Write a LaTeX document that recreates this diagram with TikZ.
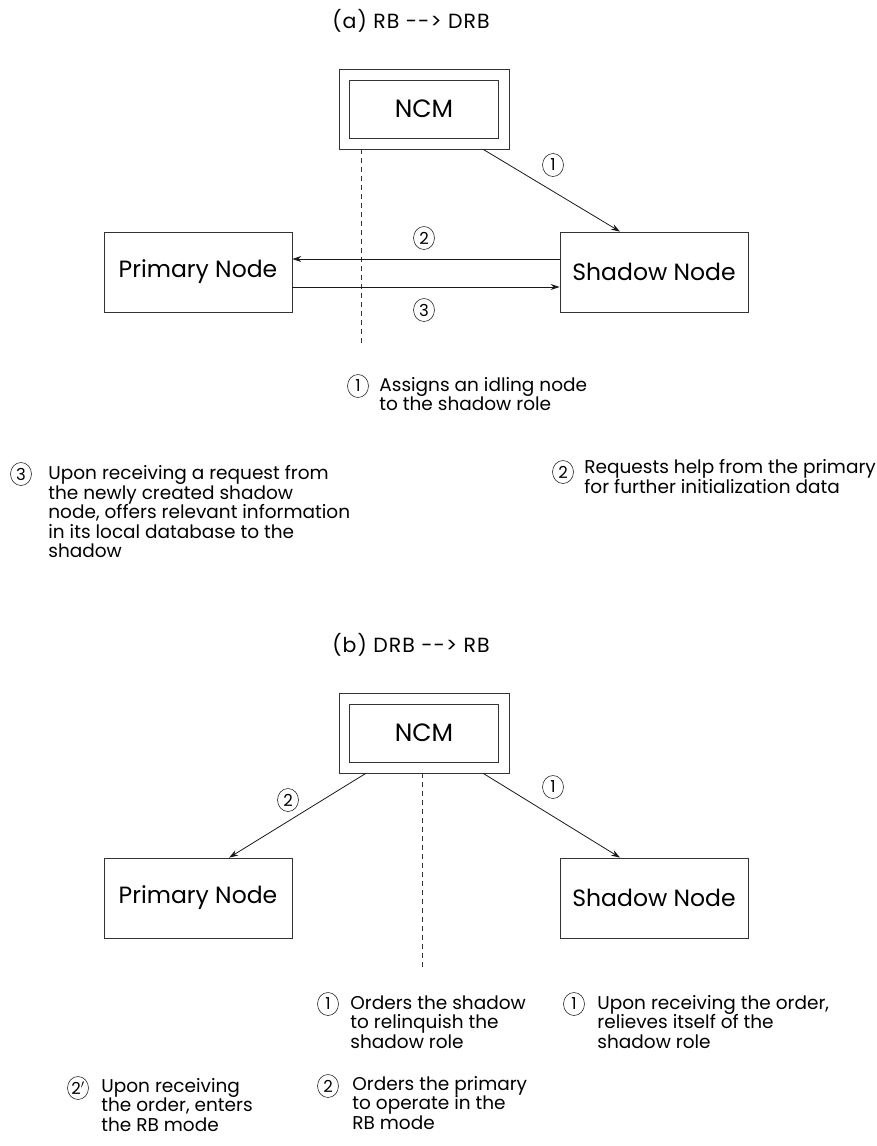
\documentclass[tikz,border=0pt]{standalone}
\usepackage{fontspec}
\setmainfont{Poppins}
\usetikzlibrary{arrows.meta,shapes.geometric,calc}
\begin{document}
\begin{tikzpicture}[x=1pt,y=-1pt,
  line width=0.8pt,
  box/.style={draw=black!80,minimum width=188pt,minimum height=80pt,inner sep=0pt,font=\fontsize{23.5}{26}\selectfont},
  ncmout/.style={draw=black!80,minimum width=170pt,minimum height=80pt,inner sep=0pt},
  ncmin/.style={draw=black!80,minimum width=149pt,minimum height=58pt,inner sep=0pt,font=\fontsize{25}{28}\selectfont},
  num/.style={ellipse,draw=black!85,line width=0.6pt,minimum width=21pt,minimum height=23pt,inner sep=0pt,font=\fontsize{16.5}{16.5}\selectfont},
  note/.style={anchor=north west,align=left,inner sep=0pt,font=\fontsize{18.5}{19.5}\selectfont},
  title/.style={font=\fontsize{20.5}{24}\selectfont\addfontfeature{LetterSpace=5}},
  arr/.style={-{Stealth[length=9pt,width=6pt]},black!90},
  guide/.style={dashed,dash pattern=on 5pt off 4pt,black!80}]
\useasboundingbox (0,0) rectangle (877,1146);

% ---------- (a) RB --> DRB ----------
\node[title] (tA) at (411,21) {(a) RB {-}{-}> DRB};
\node[ncmout] (ncmAo) at (424,109) {};
\node[ncmin] (ncmA) at (424,109) {NCM};
\node[box] (prA) at (198,272) {Primary Node};
\node[box] (shA) at (654,272) {Shadow Node};

\coordinate (dA) at (361,345);
\draw[guide] (ncmAo.south -| dA) -- (dA);

\draw[arr] ($(ncmAo.south west)!0.847!(ncmAo.south east)$) -- ($(shA.north west)!0.32!(shA.north east)$);
\draw[arr] ([yshift=13pt]shA.west) -- ([yshift=13pt]prA.east);
\draw[arr] ([yshift=-15pt]prA.east) -- ([yshift=-15pt]shA.west);

\node[num] (a1) at (553,165) {1};
\node[num] (a2) at (424,238) {2};
\node[num] (a3) at (424,310) {3};

\node[num] (na1) at (358,386) {1};
\node[note] (ta1) at (379,377) {Assigns an idling node\\to the shadow role};
\node[num] (na3) at (21,474) {3};
\node[note] (ta3) at (48,465) {Upon receiving a request from\\the newly created shadow\\node, offers relevant information\\in its local database to the\\shadow};
\node[num] (na2) at (563,472) {2};
\node[note] (ta2) at (584,459) {Requests help from the primary\\for further initialization data};

% ---------- (b) DRB --> RB ----------
\node[title] (tB) at (411,645) {(b) DRB {-}{-}> RB};
\node[ncmout] (ncmBo) at (424,733) {};
\node[ncmin] (ncmB) at (424,733) {NCM};
\node[box] (prB) at (198,898) {Primary Node};
\node[box] (shB) at (654,898) {Shadow Node};

\coordinate (dB) at (422,971);
\draw[guide] (ncmBo.south -| dB) -- (dB);

\draw[arr] ($(ncmBo.south west)!0.847!(ncmBo.south east)$) -- ($(shB.north west)!0.32!(shB.north east)$);
\draw[arr] ($(ncmBo.south west)!0.159!(ncmBo.south east)$) -- ($(prB.north west)!0.665!(prB.north east)$);

\node[num] (b1) at (553,787) {1};
\node[num] (b2) at (288,800) {2};

\node[num] (nb1a) at (328,1004) {1};
\node[note] (tb1a) at (350,995) {Orders the shadow\\to relinquish the\\shadow role};
\node[num] (nb1b) at (574,1004) {1};
\node[note] (tb1b) at (597,995) {Upon receiving the order,\\relieves itself of the\\shadow role};
\node[num] (nb2p) at (78,1088) {2$'$};
\node[note] (tb2p) at (101,1078) {Upon receiving\\the order, enters\\the RB mode};
\node[num] (nb2) at (328,1086) {2};
\node[note] (tb2) at (352,1076) {Orders the primary\\to operate in the\\RB mode};
\end{tikzpicture}
\end{document}
